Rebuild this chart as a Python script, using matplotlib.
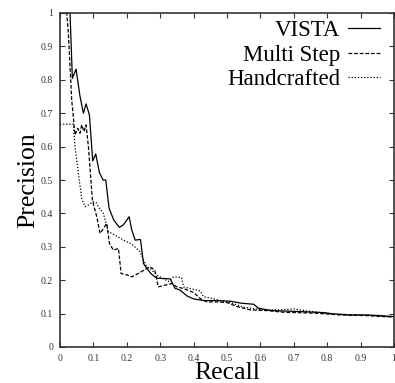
import numpy as np
import matplotlib
matplotlib.use('Agg')
import matplotlib.pyplot as plt

# values
vista_recall = [0, 0.03, 0.037, 0.048, 0.06, 0.07, 0.078, 0.088, 0.098, 0.107, 0.118, 0.129,
                0.137, 0.147, 0.161, 0.178, 0.19, 0.207, 0.215, 0.225, 0.241, 0.25, 0.26,
                0.274, 0.29, 0.33, 0.344, 0.36, 0.38, 0.40, 0.43, 0.47, 0.51, 0.544, 0.58,
                0.594, 0.634, 0.72, 0.79, 0.82, 0.87, 0.92, 0.96, 1.0]
vista_precision = [1, 1, 0.804, 0.832, 0.75, 0.70, 0.728, 0.695, 0.557, 0.578, 0.522, 0.50,
                   0.50, 0.415, 0.38, 0.358, 0.366, 0.39, 0.35, 0.32, 0.322, 0.25, 0.235,
                   0.218, 0.206, 0.204, 0.176, 0.17, 0.153, 0.144, 0.139, 0.139, 0.137, 0.131,
                   0.128, 0.116, 0.109, 0.106, 0.103, 0.099, 0.096, 0.096, 0.094, 0.091]

multi_recall = [0, 0.02, 0.025, 0.035, 0.045, 0.053, 0.06, 0.065, 0.072, 0.078, 0.085, 0.097,
                0.11, 0.12, 0.13, 0.14, 0.148, 0.16, 0.175, 0.183, 0.20, 0.215, 0.234, 0.26,
                0.27, 0.284, 0.294, 0.31, 0.334, 0.35, 0.37, 0.40, 0.42, 0.44, 0.47, 0.50,
                0.53, 0.57, 0.62, 0.67, 0.77, 0.84, 0.92, 0.97, 1.0]
multi_precision = [1, 1, 0.94, 0.74, 0.635, 0.655, 0.64, 0.665, 0.645, 0.665, 0.60, 0.44,
                   0.39, 0.34, 0.355, 0.37, 0.31, 0.29, 0.295, 0.22, 0.216, 0.21, 0.22, 0.235,
                   0.24, 0.23, 0.18, 0.184, 0.19, 0.18, 0.175, 0.163, 0.145, 0.135, 0.135,
                   0.133, 0.121, 0.111, 0.109, 0.104, 0.101, 0.096, 0.094, 0.091, 0.09]

hand_recall = [0, 0.03, 0.04, 0.045, 0.055, 0.065, 0.075, 0.085, 0.098, 0.108, 0.118, 0.13,
               0.145, 0.165, 0.19, 0.215, 0.24, 0.25, 0.26, 0.27, 0.29, 0.325, 0.34, 0.364,
               0.37, 0.39, 0.42, 0.43, 0.45, 0.48, 0.51, 0.55, 0.60, 0.65, 0.70, 0.74, 0.82,
               0.89, 0.95, 1.0]
hand_precision = [0.667, 0.667, 0.667, 0.60, 0.52, 0.445, 0.42, 0.425, 0.435, 0.432, 0.415,
                  0.40, 0.345, 0.335, 0.32, 0.308, 0.285, 0.26, 0.24, 0.235, 0.215, 0.196,
                  0.21, 0.208, 0.18, 0.175, 0.168, 0.15, 0.147, 0.139, 0.133, 0.119, 0.112,
                  0.111, 0.114, 0.108, 0.098, 0.096, 0.093, 0.09]

x_ticks = [0, 0.1, 0.2, 0.3, 0.4, 0.5, 0.6, 0.7, 0.8, 0.9, 1]
y_ticks = [0, 0.1, 0.2, 0.3, 0.4, 0.5, 0.6, 0.7, 0.8, 0.9, 1]
tick_labels = ['0', '0.1', '0.2', '0.3', '0.4', '0.5', '0.6', '0.7', '0.8', '0.9', '1']

plt.rcParams['font.family'] = ['Liberation Serif', 'DejaVu Serif']

fig = plt.figure(figsize=(3.95, 3.83), dpi=100)
ax = fig.add_axes([60/395, 36/383, 334/395, 334/383])

ax.plot(vista_recall, vista_precision, color='black', lw=0.9, label='VISTA')
ax.plot(multi_recall, multi_precision, color='black', lw=0.9, linestyle=(0, (3, 1.5)), label='Multi Step')
ax.plot(hand_recall, hand_precision, color='black', lw=0.9, linestyle=(0, (1, 1.5)), label='Handcrafted')

ax.set_xlim(0, 1)
ax.set_ylim(0, 1)
ax.set_xticks(x_ticks)
ax.set_yticks(y_ticks)
ax.set_xticklabels(tick_labels)
ax.set_yticklabels(tick_labels)
ax.tick_params(direction='in', top=True, right=True, length=3.5, width=0.8,
               labelsize=7, pad=5, colors='#333333', labelcolor='#333333')
for s in ax.spines.values():
    s.set_linewidth(1.2)
    s.set_color('#333333')

ax.set_xlabel('Recall', fontsize=18.5, labelpad=-1)
ax.set_ylabel('Precision', fontsize=18.5, labelpad=1)

ax.legend(loc='upper right', frameon=False, markerfirst=False, fontsize=16.5,
          handlelength=1.4, handletextpad=0.35, labelspacing=0.15,
          borderaxespad=0.2, bbox_to_anchor=(1.0, 1.02))

fig.savefig('out.png', dpi=100)
